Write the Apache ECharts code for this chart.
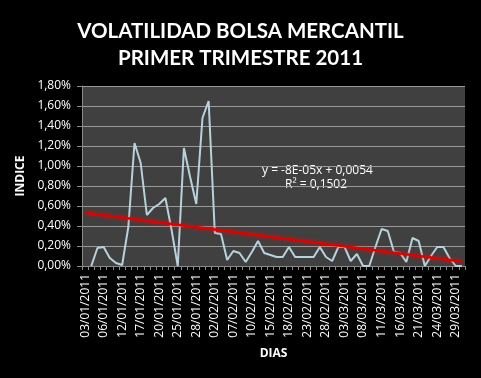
<!DOCTYPE html>
<html>
<head>
<meta charset="utf-8">
<script src="https://cdn.jsdelivr.net/npm/echarts@6/dist/echarts.min.js"></script>
<style>
  html, body { margin: 0; padding: 0; background: #000; }
  #chart { width: 481px; height: 378px; }
</style>
</head>
<body>
<div id="chart"></div>
<script>
// dias habiles (categorias)
var dias = [
  '03/01/2011','04/01/2011','05/01/2011','06/01/2011','07/01/2011','11/01/2011','12/01/2011','13/01/2011','14/01/2011','17/01/2011',
  '18/01/2011','19/01/2011','20/01/2011','21/01/2011','24/01/2011','25/01/2011','26/01/2011','27/01/2011','28/01/2011','31/01/2011',
  '01/02/2011','02/02/2011','03/02/2011','04/02/2011','07/02/2011','08/02/2011','09/02/2011','10/02/2011','11/02/2011','14/02/2011',
  '15/02/2011','16/02/2011','17/02/2011','18/02/2011','21/02/2011','22/02/2011','23/02/2011','24/02/2011','25/02/2011','28/02/2011',
  '01/03/2011','02/03/2011','03/03/2011','04/03/2011','07/03/2011','08/03/2011','09/03/2011','10/03/2011','11/03/2011','14/03/2011',
  '15/03/2011','16/03/2011','17/03/2011','18/03/2011','21/03/2011','22/03/2011','23/03/2011','24/03/2011','25/03/2011','28/03/2011',
  '29/03/2011','30/03/2011'
];

// volatilidad en %
var volatilidad = [
  null, 0, 0.18, 0.19, 0.08, 0.03, 0.01, 0.39, 1.23, 1.03,
  0.51, 0.58, 0.62, 0.68, 0.36, 0, 1.18, 0.89, 0.62, 1.48,
  1.65, 0.33, 0.32, 0.06, 0.15, 0.13, 0.04, 0.14, 0.25, 0.13,
  0.11, 0.09, 0.09, 0.19, 0.09, 0.09, 0.09, 0.09, 0.19, 0.09,
  0.05, 0.19, 0.19, 0.05, 0.12, 0, 0, 0.19, 0.37, 0.35,
  0.14, 0.13, 0.04, 0.28, 0.25, 0, 0.10, 0.19, 0.19, 0.08,
  0, 0
];

// linea de tendencia (inicio, fin) en %
var tendencia = [0.532, 0.044];

var ecuacion = ['y = -8E-05x + 0,0054', 'R² = 0,1502'];

var fmt = function (v) { return v.toFixed(2).replace('.', ',') + '%'; };

var chart = echarts.init(document.getElementById('chart'));
var option = {
  backgroundColor: '#000',
  animation: false,
  textStyle: { fontFamily: 'Open Sans' },
  title: {
    text: 'VOLATILIDAD BOLSA MERCANTIL\nPRIMER TRIMESTRE 2011',
    left: 'center',
    top: 13,
    textStyle: {
      color: '#fff', fontFamily: 'Lato', fontWeight: 'bold',
      fontSize: 20.5, lineHeight: 27
    }
  },
  grid: { left: 82, right: 16, top: 86, bottom: 112, show: true,
          backgroundColor: '#404040', borderWidth: 0 },
  xAxis: {
    type: 'category',
    data: dias,
    boundaryGap: true,
    name: 'DIAS',
    nameLocation: 'middle',
    nameGap: 82,
    nameTextStyle: { color: '#fff', fontWeight: 'bold', fontSize: 12 },
    axisLine: { lineStyle: { color: '#8a8a8a' } },
    axisTick: { show: true, interval: 0, length: 4, inside: false, lineStyle: { color: '#8a8a8a' } },
    axisLabel: { interval: 2, rotate: 90, color: '#fff', fontSize: 12, margin: 8 }
  },
  yAxis: {
    type: 'value',
    min: 0, max: 1.8, interval: 0.2,
    name: 'INDICE',
    nameLocation: 'middle',
    nameGap: 42,
    nameTextStyle: { color: '#fff', fontWeight: 'bold', fontSize: 12 },
    axisLine: { show: true, lineStyle: { color: '#8a8a8a' } },
    axisTick: { show: true, length: 5, lineStyle: { color: '#8a8a8a' } },
    axisLabel: { color: '#fff', fontSize: 12, margin: 11, formatter: fmt },
    splitLine: { lineStyle: { color: '#9a9a9a', width: 1 } }
  },
  graphic: [
    { type: 'text', left: 262, top: 165, style: { text: ecuacion[0], fill: '#fff', font: '12px "Open Sans"' } },
    { type: 'text', left: 285, top: 179, style: { text: ecuacion[1], fill: '#fff', font: '12px "Open Sans"' } }
  ],
  series: [{
    type: 'line',
    data: volatilidad,
    symbol: 'none',
    lineStyle: { color: '#b8d2dc', width: 2 },
    z: 3,
    markLine: {
      silent: true,
      symbol: 'none',
      label: { show: false },
      lineStyle: {
        color: '#e00000', width: 2.5, type: 'solid',
        shadowBlur: 4, shadowColor: 'rgba(255,0,0,0.6)'
      },
      data: [[
        { coord: [dias[0], tendencia[0]] },
        { coord: [dias[dias.length - 1], tendencia[1]] }
      ]]
    }
  }]
};
chart.setOption(option);
</script>
</body>
</html>
